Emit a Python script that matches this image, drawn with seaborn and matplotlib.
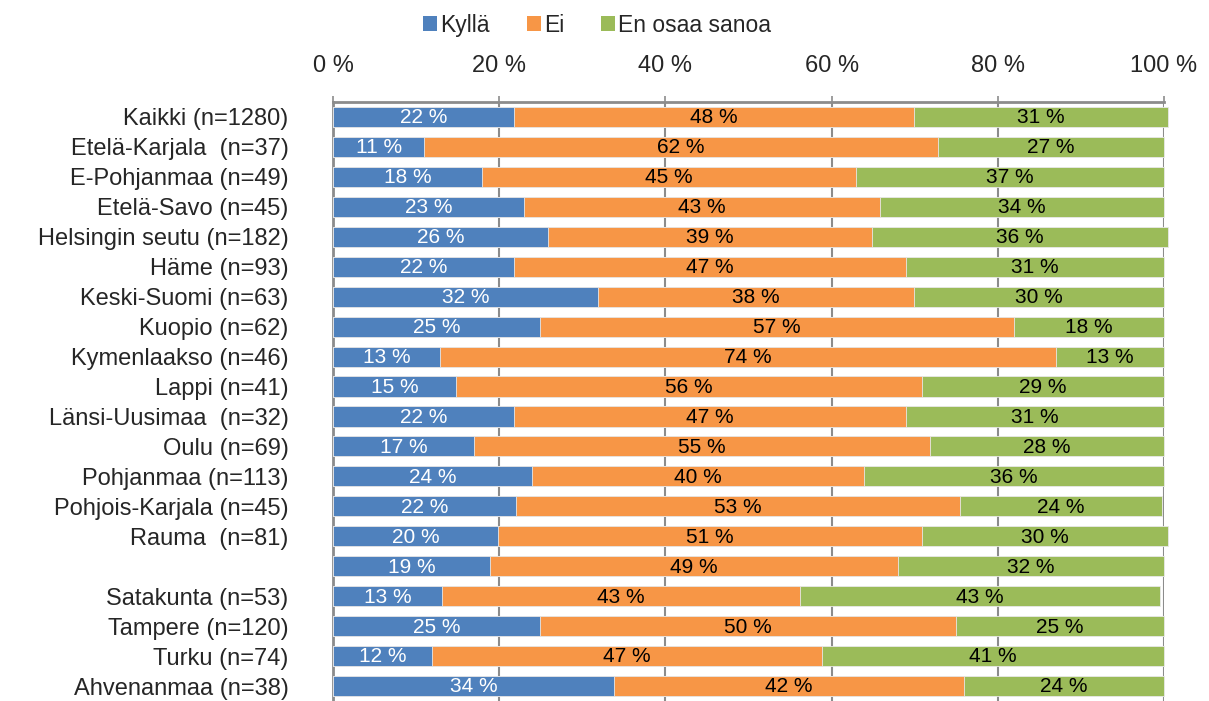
import numpy as np
import pandas as pd
import matplotlib
matplotlib.use("Agg")
import matplotlib.pyplot as plt
import seaborn as sns
from matplotlib.patches import Patch

# Data (percentages)
regions = [
    "Kaikki (n=1280)", "Etelä-Karjala  (n=37)", "E-Pohjanmaa (n=49)", "Etelä-Savo (n=45)",
    "Helsingin seutu (n=182)", "Häme (n=93)", "Keski-Suomi (n=63)", "Kuopio (n=62)",
    "Kymenlaakso (n=46)", "Lappi (n=41)", "Länsi-Uusimaa  (n=32)", "Oulu (n=69)",
    "Pohjanmaa (n=113)", "Pohjois-Karjala (n=45)", "Rauma  (n=81)", "",
    "Satakunta (n=53)", "Tampere (n=120)", "Turku (n=74)", "Ahvenanmaa (n=38)",
]
kylla = [21.8, 11.0, 17.9, 23.0, 25.9, 21.8, 31.9, 24.9, 12.9, 14.8,
         21.8, 17.0, 23.9, 22.0, 19.9, 18.9, 13.1, 24.9, 11.9, 33.8]
ei = [48.1, 61.8, 45.0, 42.8, 39.0, 47.2, 38.0, 57.0, 74.1, 56.1,
      47.2, 54.8, 40.0, 53.4, 51.0, 49.1, 43.1, 50.1, 46.9, 42.1]
eos = [30.6, 27.2, 37.1, 34.2, 35.6, 31.0, 30.1, 18.1, 13.0, 29.1,
       31.0, 28.2, 36.1, 24.4, 29.6, 32.0, 43.3, 25.0, 41.2, 24.1]
series = ["Kyllä", "Ei", "En osaa sanoa"]
colors = ["#4F81BD", "#F79646", "#9BBB59"]

sns.set_style("white")
plt.rcParams["font.family"] = ["Liberation Sans", "DejaVu Sans"]

df = pd.DataFrame({"row": [f"r{i}" for i in range(len(regions))],
                   "Kyllä": kylla, "Ei": ei, "En osaa sanoa": eos})
df["c1"] = df["Kyllä"]
df["c2"] = df["c1"] + df["Ei"]
df["c3"] = df["c2"] + df["En osaa sanoa"]

fig = plt.figure(figsize=(12.09, 7.01), dpi=100)
ax = fig.add_axes([333 / 1209, 0.0, (1164 - 333) / 1209, 1 - 102 / 701])

order = list(df["row"])
for col, color in zip(["c3", "c2", "c1"], colors[::-1]):
    sns.barplot(data=df, x=col, y="row", order=order, orient="h", color=color,
                width=0.67, saturation=1, edgecolor="#e8e8e8", linewidth=0.6, ax=ax, zorder=3)
for p in ax.patches:
    p.set_clip_on(False)

# segment labels
lefts = [np.zeros(len(df)), df["c1"].values, df["c2"].values]
for s, left, tc in zip(series, lefts, ["white", "black", "black"]):
    for i, (l, v) in enumerate(zip(left, df[s].values)):
        ax.text(l + v / 2, i + 0.03, f"{v:.0f} %", ha="center", va="center",
                fontsize=15, color=tc, zorder=5)

ax.set_xlim(0, 100)
ax.set_ylim(len(df) - 0.5, -0.5)
ax.xaxis.tick_top()
ax.set_xticks(range(0, 101, 20))
ax.set_xticklabels([f"{t} %" for t in range(0, 101, 20)], fontsize=17)
ax.tick_params(axis="x", length=4, width=1.2, color="#8c8c8c", pad=14, direction="out")
ax.set_yticks(range(len(df)))
ax.set_yticklabels(regions, fontsize=17)
ax.tick_params(axis="y", length=0, pad=32)
ax.set_yticks(np.arange(-0.5, len(df), 1), minor=True)
ax.tick_params(axis="y", which="minor", length=7, width=1.5, color="#8c8c8c", direction="out")
ax.set_xlabel("")
ax.set_ylabel("")
ax.grid(axis="x", color="#8c8c8c", linewidth=1.5, zorder=0)
ax.set_axisbelow(True)
for side in ["right", "bottom"]:
    ax.spines[side].set_visible(False)
for side in ["left", "top"]:
    ax.spines[side].set_color("#8c8c8c")
    ax.spines[side].set_linewidth(2)

handles = [Patch(facecolor=c, edgecolor="none", label=s) for s, c in zip(series, colors)]
fig.legend(handles=handles, loc="upper center", bbox_to_anchor=(0.494, 1.01), ncol=3,
           frameon=False, fontsize=16.5, handlelength=0.6, handleheight=0.6,
           handletextpad=0.15, columnspacing=1.6)

fig.savefig("out.png", dpi=100)
